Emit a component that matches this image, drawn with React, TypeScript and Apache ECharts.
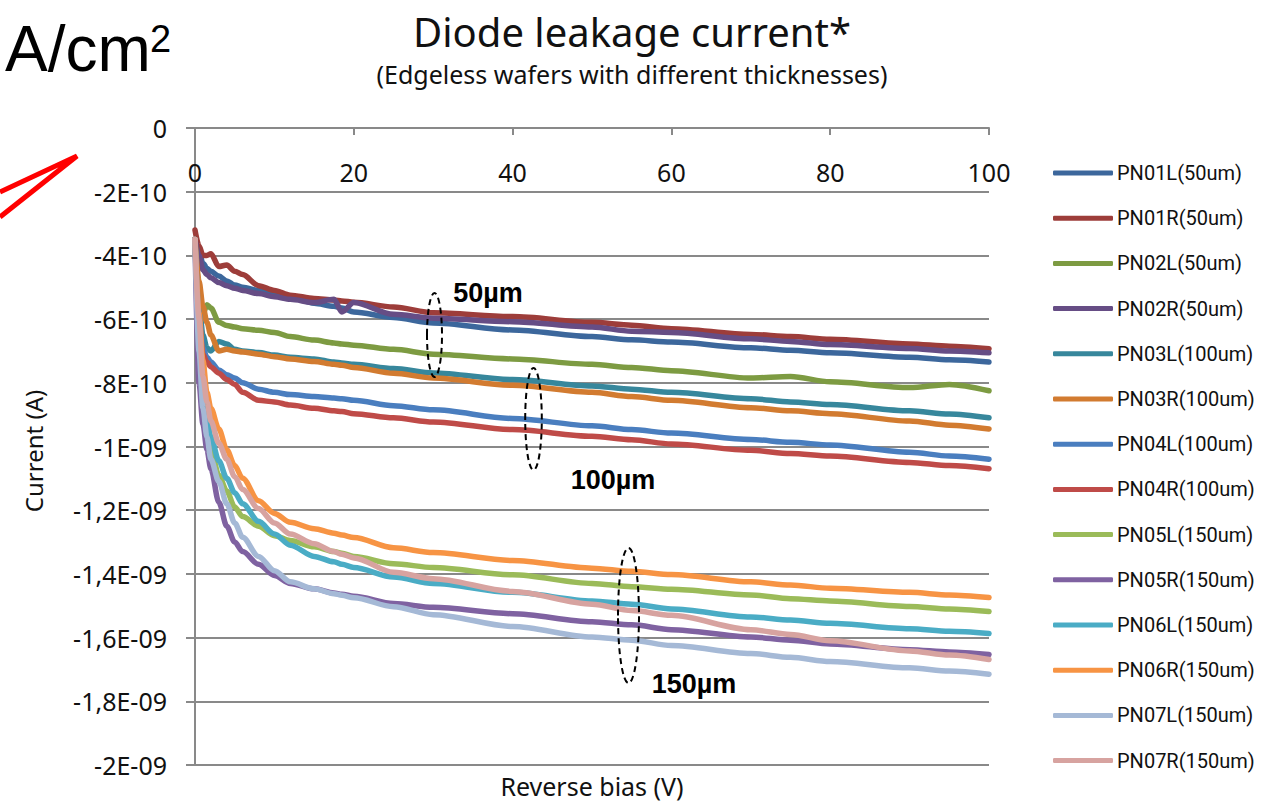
import React, { useEffect, useRef } from "react";
import * as echarts from "echarts";

// Reverse bias (V) sample points shared by every curve
const biasV = [0, 0.5, 1, 1.5, 2, 3, 4, 5, 6, 8, 10, 12, 15, 17.5, 18.5, 20, 25, 30, 40, 50, 55, 60, 70, 75, 80, 90, 95, 100];

// Current values in units of 1E-10 A
const pn01L = [-3.5, -3.9, -4.25, -4.4, -4.5, -4.65, -4.8, -4.93, -5.0, -5.1, -5.19, -5.3, -5.5, -5.6, -5.65, -5.78, -5.95, -6.12, -6.34, -6.55, -6.65, -6.72, -6.9, -6.98, -7.06, -7.2, -7.28, -7.35];
const pn01R = [-3.2, -3.7, -4.0, -4.0, -3.95, -4.35, -4.3, -4.5, -4.6, -4.95, -5.1, -5.25, -5.35, -5.4, -5.43, -5.47, -5.62, -5.8, -5.92, -6.1, -6.19, -6.3, -6.48, -6.55, -6.63, -6.78, -6.85, -6.93];
const pn02L = [-3.5, -5.0, -5.85, -5.55, -5.65, -6.1, -6.2, -6.25, -6.3, -6.35, -6.42, -6.55, -6.66, -6.75, -6.78, -6.82, -6.95, -7.1, -7.25, -7.42, -7.52, -7.62, -7.85, -7.8, -7.97, -8.15, -8.05, -8.25];
const pn02R = [-3.5, -4.0, -4.45, -4.6, -4.7, -4.85, -4.95, -5.03, -5.1, -5.2, -5.3, -5.38, -5.48, -5.38, -5.78, -5.48, -5.85, -5.97, -6.08, -6.25, -6.38, -6.42, -6.62, -6.7, -6.8, -6.92, -7.0, -7.06];
const pn03L = [-3.5, -5.5, -6.5, -6.9, -7.0, -6.7, -6.78, -6.95, -7.0, -7.05, -7.13, -7.2, -7.25, -7.35, -7.38, -7.42, -7.55, -7.69, -7.9, -8.1, -8.2, -8.3, -8.5, -8.6, -8.68, -8.88, -8.98, -9.1];
const pn03R = [-3.5, -4.8, -5.6, -6.1, -6.5, -7.0, -6.95, -7.0, -7.03, -7.1, -7.18, -7.25, -7.33, -7.42, -7.45, -7.52, -7.7, -7.85, -8.08, -8.3, -8.43, -8.55, -8.78, -8.88, -8.97, -9.2, -9.33, -9.45];
const pn04L = [-3.5, -5.8, -6.9, -7.2, -7.35, -7.6, -7.75, -7.85, -8.0, -8.2, -8.3, -8.37, -8.43, -8.48, -8.5, -8.55, -8.72, -8.85, -9.12, -9.35, -9.47, -9.58, -9.78, -9.87, -9.95, -10.18, -10.3, -10.4];
const pn04R = [-3.5, -6.0, -7.1, -7.35, -7.5, -7.7, -7.9, -8.05, -8.3, -8.55, -8.6, -8.7, -8.8, -8.88, -8.9, -8.97, -9.1, -9.23, -9.47, -9.68, -9.79, -9.92, -10.12, -10.22, -10.3, -10.5, -10.6, -10.7];
const pn05L = [-3.5, -6.5, -8.2, -9.1, -10.1, -10.9, -11.4, -11.9, -12.2, -12.5, -12.8, -12.95, -13.15, -13.3, -13.35, -13.45, -13.68, -13.8, -14.03, -14.3, -14.4, -14.48, -14.66, -14.78, -14.85, -15.02, -15.1, -15.18];
const pn05R = [-3.6, -8.0, -9.3, -10.1, -10.7, -11.75, -12.5, -13.0, -13.3, -13.7, -14.05, -14.3, -14.47, -14.6, -14.64, -14.7, -14.93, -15.05, -15.25, -15.5, -15.6, -15.75, -15.98, -16.08, -16.2, -16.38, -16.45, -16.53];
const pn06L = [-3.5, -6.0, -8.0, -9.1, -9.7, -10.45, -11.0, -11.45, -11.8, -12.35, -12.75, -13.1, -13.45, -13.62, -13.7, -13.8, -14.1, -14.3, -14.58, -14.85, -14.95, -15.1, -15.35, -15.45, -15.55, -15.72, -15.8, -15.87];
const pn06R = [-3.5, -5.8, -7.3, -8.3, -8.8, -9.45, -10.1, -10.6, -11.0, -11.7, -12.1, -12.38, -12.58, -12.72, -12.78, -12.86, -13.18, -13.33, -13.58, -13.82, -13.92, -14.02, -14.25, -14.35, -14.45, -14.58, -14.66, -14.74];
const pn07L = [-3.5, -7.0, -8.8, -9.7, -10.4, -11.1, -11.8, -12.4, -12.85, -13.45, -13.9, -14.25, -14.47, -14.62, -14.67, -14.75, -15.03, -15.28, -15.65, -15.98, -16.08, -16.25, -16.5, -16.62, -16.75, -16.95, -17.05, -17.15];
const pn07R = [-3.5, -6.0, -7.8, -8.6, -9.2, -9.9, -10.4, -10.95, -11.35, -11.95, -12.4, -12.75, -13.05, -13.3, -13.38, -13.5, -13.95, -14.15, -14.55, -14.95, -15.15, -15.3, -15.75, -15.9, -16.1, -16.42, -16.55, -16.69];

const seriesNames = [
  "PN01L(50um)", "PN01R(50um)", "PN02L(50um)", "PN02R(50um)",
  "PN03L(100um)", "PN03R(100um)", "PN04L(100um)", "PN04R(100um)",
  "PN05L(150um)", "PN05R(150um)", "PN06L(150um)", "PN06R(150um)",
  "PN07L(150um)", "PN07R(150um)",
];
const seriesValues = [pn01L, pn01R, pn02L, pn02R, pn03L, pn03R, pn04L, pn04R, pn05L, pn05R, pn06L, pn06R, pn07L, pn07R];
const seriesColors = [
  "#3C679C", "#9D3D3A", "#7D9B42", "#664D85",
  "#37879C", "#D27B30", "#4A7EBF", "#BF4B48",
  "#9BBB59", "#7F62A1", "#4AACC5", "#F79444",
  "#A5B9D6", "#D7A3A0",
];

const yTickLabels = ["0", "-2E-10", "-4E-10", "-6E-10", "-8E-10", "-1E-09", "-1,2E-09", "-1,4E-09", "-1,6E-09", "-1,8E-09", "-2E-09"];

const GRAY = "#898989";
const FONT = "'Noto Sans', 'Open Sans', sans-serif";

export default function App() {
  const ref = useRef<HTMLDivElement>(null);

  useEffect(() => {
    if (!ref.current) return;
    const chart = echarts.init(ref.current, null, { renderer: "svg" });

    const series = seriesNames.map((name, s) => ({
      name,
      type: "line",
      symbol: "none",
      smooth: 0.3,
      smoothMonotone: "x",
      lineStyle: { width: 5.5, color: seriesColors[s], cap: "round", join: "round" },
      itemStyle: { color: seriesColors[s] },
      data: biasV.map((x, i) => [x, seriesValues[s][i]]),
    }));

    const dashed = { fill: "none", stroke: "#000", lineWidth: 2, lineDash: [6, 4] };
    const boldLabel = { fontFamily: "'Liberation Sans', Arial, sans-serif", fontWeight: "bold", fontSize: 27, fill: "#000", align: "center", verticalAlign: "middle" };

    chart.setOption({
      animation: false,
      backgroundColor: "#fff",
      grid: { left: 195, top: 128, width: 794, height: 637, containLabel: false },
      xAxis: {
        type: "value",
        position: "top",
        min: 0,
        max: 100,
        interval: 20,
        axisLine: { show: true, onZero: false, lineStyle: { color: GRAY, width: 2 } },
        axisTick: { show: true, inside: true, length: 7, lineStyle: { color: GRAY, width: 2 } },
        axisLabel: { inside: true, margin: 31, fontSize: 25, color: "#111", fontFamily: FONT },
        splitLine: { show: false },
      },
      yAxis: {
        type: "value",
        min: -20,
        max: 0,
        interval: 2,
        axisLine: { show: true, onZero: false, lineStyle: { color: GRAY, width: 2 } },
        axisTick: { show: true, length: 9, lineStyle: { color: GRAY, width: 2 } },
        axisLabel: {
          margin: 28,
          fontSize: 25,
          color: "#111",
          fontFamily: FONT,
          formatter: (v: number) => yTickLabels[Math.round(-v / 2)] ?? "",
        },
        splitLine: { show: true, lineStyle: { color: GRAY, width: 2 } },
      },
      legend: {
        data: seriesNames,
        orient: "vertical",
        left: 1053,
        top: 163,
        padding: 0,
        icon: "roundRect",
        itemWidth: 60,
        itemHeight: 5,
        itemGap: 25.2,
        textStyle: { fontFamily: "Roboto, sans-serif", fontSize: 20, color: "#111", lineHeight: 20, padding: [0, 0, 0, -1] },
      },
      graphic: [
        { type: "text", x: 632, y: 31, style: { text: "Diode leakage current*", fontFamily: FONT, fontSize: 40, fill: "#111", align: "center", verticalAlign: "middle" } },
        { type: "text", x: 632, y: 74, style: { text: "(Edgeless wafers with different thicknesses)", fontFamily: FONT, fontSize: 25, fill: "#111", align: "center", verticalAlign: "middle" } },
        { type: "text", x: 5, y: 49, style: { text: "A/cm", fontFamily: "'Liberation Sans', Arial, sans-serif", fontSize: 64, fill: "#000", align: "left", verticalAlign: "middle" } },
        { type: "text", x: 150, y: 39, style: { text: "2", fontFamily: "'Liberation Sans', Arial, sans-serif", fontSize: 38, fill: "#000", align: "left", verticalAlign: "middle" } },
        { type: "polyline", shape: { points: [[0, 192], [77, 156], [0, 217]] }, style: { stroke: "#FF0000", lineWidth: 5, fill: "none" } },
        { type: "text", x: 33, y: 451, rotation: Math.PI / 2, style: { text: "Current (A)", fontFamily: FONT, fontSize: 24, fill: "#111", align: "center", verticalAlign: "middle" } },
        { type: "text", x: 592, y: 786, style: { text: "Reverse bias (V)", fontFamily: FONT, fontSize: 25, fill: "#111", align: "center", verticalAlign: "middle" } },
        { type: "ellipse", shape: { cx: 434.5, cy: 335, rx: 7.5, ry: 42 }, style: dashed, z: 100 },
        { type: "ellipse", shape: { cx: 533.5, cy: 419, rx: 8.3, ry: 51 }, style: dashed, z: 100 },
        { type: "ellipse", shape: { cx: 628.5, cy: 615.5, rx: 10.5, ry: 67.5 }, style: dashed, z: 100 },
        { type: "text", x: 488, y: 293, style: { text: "50µm", ...boldLabel }, z: 100 },
        { type: "text", x: 613, y: 480, style: { text: "100µm", ...boldLabel }, z: 100 },
        { type: "text", x: 694, y: 684, style: { text: "150µm", ...boldLabel }, z: 100 },
      ],
      series,
    });

    return () => chart.dispose();
  }, []);

  return (
    <div
      ref={ref}
      style={{ position: "fixed", left: 0, top: 0, width: 1276, height: 803, background: "#fff" }}
    />
  );
}
